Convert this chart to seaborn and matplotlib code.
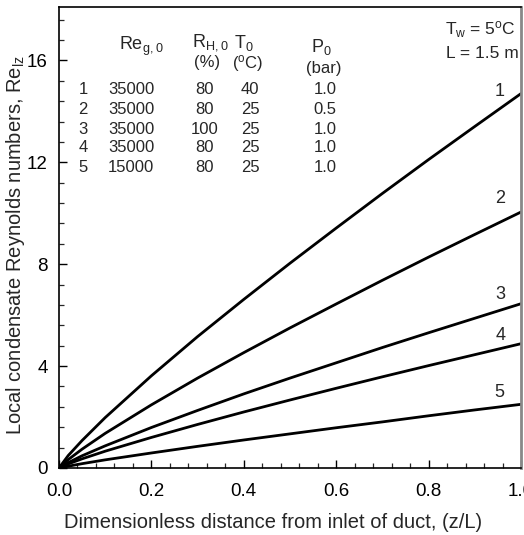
import numpy as np
import pandas as pd
import matplotlib
matplotlib.use("Agg")
import matplotlib.pyplot as plt
import seaborn as sns
from matplotlib.ticker import MultipleLocator

# ---- data ----
z = [0.0, 0.02, 0.05, 0.1, 0.2, 0.3, 0.4, 0.5, 0.6, 0.7, 0.8, 0.9, 1.0]
curve_1 = [0.0, 0.49, 1.08, 1.98, 3.62, 5.16, 6.62, 8.04, 9.42, 10.78, 12.11, 13.41, 14.7]
curve_2 = [0.0, 0.33, 0.74, 1.36, 2.48, 3.53, 4.53, 5.50, 6.44, 7.37, 8.28, 9.17, 10.05]
curve_3 = [0.0, 0.21, 0.48, 0.87, 1.59, 2.26, 2.91, 3.53, 4.13, 4.73, 5.31, 5.88, 6.45]
curve_4 = [0.0, 0.16, 0.36, 0.66, 1.20, 1.71, 2.20, 2.67, 3.13, 3.58, 4.02, 4.45, 4.88]
curve_5 = [0.0, 0.07, 0.17, 0.32, 0.59, 0.85, 1.10, 1.34, 1.58, 1.81, 2.05, 2.28, 2.5]
curve_names = ["1", "2", "3", "4", "5"]

# curve-label anchor points (z, Re)
label_z = [0.953, 0.955, 0.955, 0.955, 0.952]
label_y = [14.8, 10.6, 6.8, 5.2, 2.95]

# parameter table
row_ids = ["1", "2", "3", "4", "5"]
re_g0 = ["35000", "35000", "35000", "35000", "15000"]
rh_0 = ["80", "80", "100", "80", "80"]
t_0 = ["40", "25", "25", "25", "25"]
p_0 = ["1.0", "0.5", "1.0", "1.0", "1.0"]

x_ticks = [0.0, 0.2, 0.4, 0.6, 0.8, 1.0]
y_ticks = [0, 4, 8, 12, 16]

# ---- build long-form table ----
series = [curve_1, curve_2, curve_3, curve_4, curve_5]
df = pd.DataFrame({
    "z": np.tile(z, len(series)),
    "Re": np.concatenate(series),
    "curve": np.repeat(curve_names, len(z)),
})

sns.set_theme(style="ticks")
plt.rcParams["font.family"] = ["Liberation Sans", "DejaVu Sans"]
plt.rcParams["mathtext.default"] = "regular"

fig = plt.figure(figsize=(5.24, 5.35), dpi=100)
ax = fig.add_axes([59 / 524, 1 - 468 / 535, (521 - 59) / 524, (468 - 7) / 535])

sns.lineplot(data=df, x="z", y="Re", hue="curve",
             palette=["black"] * 5, legend=False, linewidth=2.0, ax=ax,
             estimator=None)

ax.set_xlim(0, 1.0)
ax.set_ylim(0, 18.1)
ax.set_xticks(x_ticks)
ax.set_xticklabels([f"{v:.1f}" for v in x_ticks])
ax.set_yticks(y_ticks)
ax.set_yticklabels([str(v) for v in y_ticks])
ax.xaxis.set_minor_locator(MultipleLocator(0.04))
ax.yaxis.set_minor_locator(MultipleLocator(0.8))
ax.tick_params(axis="both", which="major", direction="in", length=6, width=1.0,
               labelsize=13.5, colors="black")
ax.tick_params(axis="x", which="major", pad=11)
ax.tick_params(axis="y", which="major", pad=8)
ax.tick_params(axis="both", which="minor", direction="in", length=3.5, width=0.9)
ax.tick_params(top=False, right=False, which="both")

for s in ax.spines.values():
    s.set_linewidth(1.2)
    s.set_color("black")
ax.spines["right"].set_color("#888888")
ax.spines["right"].set_linewidth(2.0)

ax.set_xlabel("Dimensionless distance from inlet of duct, (z/L)", fontsize=14.5)
ax.set_ylabel("Local condensate Reynolds numbers, Re$_{lz}$", fontsize=14.5)
ax.xaxis.set_label_coords(0.463, -0.098)
ax.yaxis.set_label_coords(-0.070, 0.484)

# curve labels
for name, lz, ly in zip(curve_names, label_z, label_y):
    ax.text(lz, ly, name, fontsize=13, ha="center", va="center")

# table
def fx(px):
    return (px - 59) / 462

def fy(py):
    return (468 - py) / 461

tfs = 12
ax.text(fx(141), fy(46), "Re$_{g,0}$", transform=ax.transAxes, fontsize=13, ha="center", va="center")
ax.text(fx(210), fy(43), "R$_{H,0}$", transform=ax.transAxes, fontsize=13, ha="center", va="center")
ax.text(fx(244), fy(43), "T$_0$", transform=ax.transAxes, fontsize=13, ha="center", va="center")
ax.text(fx(321), fy(47), "P$_0$", transform=ax.transAxes, fontsize=13, ha="center", va="center")
ax.text(fx(207), fy(63), "(%)", transform=ax.transAxes, fontsize=tfs, ha="center", va="center")
ax.text(fx(248), fy(63), "($^{o}$C)", transform=ax.transAxes, fontsize=tfs, ha="center", va="center")
ax.text(fx(324), fy(69), "(bar)", transform=ax.transAxes, fontsize=tfs, ha="center", va="center")

row_py = [89, 109, 129, 148, 167]
for py, rid, a, b, c, d in zip(row_py, row_ids, re_g0, rh_0, t_0, p_0):
    ax.text(fx(83), fy(py), rid, transform=ax.transAxes, fontsize=tfs, ha="center", va="center")
    ax.text(fx(131), fy(py), a, transform=ax.transAxes, fontsize=tfs, ha="center", va="center")
    ax.text(fx(205), fy(py), b, transform=ax.transAxes, fontsize=tfs, ha="center", va="center")
    ax.text(fx(250), fy(py), c, transform=ax.transAxes, fontsize=tfs, ha="center", va="center")
    ax.text(fx(325), fy(py), d, transform=ax.transAxes, fontsize=tfs, ha="center", va="center")

ax.text(fx(516), fy(30), "T$_w$ = 5$^{o}$C", transform=ax.transAxes, fontsize=12.5,
        ha="right", va="center")
ax.text(fx(519), fy(53), "L = 1.5 m", transform=ax.transAxes, fontsize=12.5,
        ha="right", va="center")

fig.savefig("out.png", dpi=100)
